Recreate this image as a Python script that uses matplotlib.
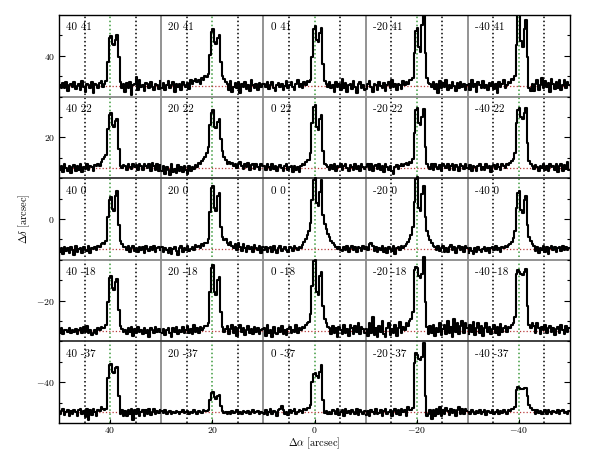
import numpy as np
import matplotlib
matplotlib.use("Agg")
import matplotlib.pyplot as plt

plt.rcParams.update({
    "font.family": "serif",
    "font.serif": ["cmr10", "DejaVu Serif"],
    "mathtext.fontset": "cm",
    "axes.formatter.use_mathtext": True,
    "axes.unicode_minus": True,
})

# ---- data -------------------------------------------------------------
ra_offsets = [40, 20, 0, -20, -40]          # panel labels (columns)
dec_offsets = [41, 22, 0, -18, -37]         # panel labels (rows)
x_ticks = [40, 20, 0, -20, -40]
y_ticks = [40, 20, 0, -20, -40]

# spectra (intensity in tenths of a plot unit above baseline), one per panel
s40_41 = [3,-6,8,-5,9,-12,2,6,-3,10,-8,0,5,-9,12,-2,-14,6,3,-5,9,-18,5,2,-6,8,12,-3,
          6,12,60,118,123,102,100,112,125,70,10,-6,4,
          -15,8,-5,10,-22,3,6,22,-9,14,-3,2,-12,8,5,-6,9,-2,-10,6,3,-8,12]
s20_41 = [-5,8,-10,3,12,-6,2,9,-14,5,-2,6,-9,10,3,-3,8,-8,14,5,12,18,9,15,6,20,14,25,
          22,30,75,132,139,108,104,118,126,60,25,18,10,
          6,-9,12,-14,-3,8,-6,10,-16,5,-2,9,-8,3,-12,14,2,-5,6,-9,8,-3,5]
s0_41 = [6,-3,9,-8,2,10,-5,-12,3,8,-2,5,-9,1,12,-6,3,9,-3,-10,5,14,-2,6,-5,9,3,12,
         10,15,70,140,148,112,108,130,143,55,12,5,-3,
         9,-6,3,-14,10,-2,5,-9,18,-5,8,-15,2,6,-8,12,-3,-18,5,9,-6,2,-10]
sm20_41 = [-8,5,12,-3,-14,6,2,-9,10,1,-5,8,-12,3,9,-6,14,-2,5,-10,6,3,-8,12,2,9,5,15,
           14,20,80,135,141,95,84,150,185,80,20,8,4,
           -3,10,-8,5,-18,12,-5,8,-2,14,-9,3,-6,9,1,-12,8,-5,10,-3,6,-9,3]
sm40_41 = [5,-9,14,-3,6,-15,9,2,-6,12,-5,3,-10,8,1,10,-8,5,-18,9,-2,6,14,-5,3,10,8,18,
           15,25,100,175,185,110,96,140,161,70,-5,-12,6,
           -12,6,15,-9,3,20,-6,12,-3,8,-14,18,5,-8,10,-5,15,-10,3,14,-6,9,2]

s40_22 = [-6,3,-12,8,-2,-9,5,-14,1,6,-8,3,-5,9,-10,2,-3,8,-6,5,1,-9,6,3,10,5,14,20,
          25,30,95,130,135,105,100,115,120,45,5,-2,6,
          5,-5,8,2,-3,9,1,6,-5,10,3,-6,8,5,-2,9,-8,12,3,-5,10,-9,6]
s20_22 = [-9,5,-15,2,-6,-18,8,-12,-3,-14,6,-8,1,-10,5,-5,-16,3,-9,2,-3,6,1,12,9,15,20,25,
          35,50,105,135,141,100,96,112,120,70,40,25,18,
          10,14,8,12,3,10,-2,8,14,5,-3,9,2,12,-5,6,10,-3,8,2,-6,9,5]
s0_22 = [3,-5,8,1,-6,9,-3,5,-8,2,6,-2,-9,3,8,-5,1,5,-10,3,-6,2,-12,5,9,6,14,18,
         18,35,110,148,153,100,92,120,129,40,10,6,2,
         -5,6,-3,9,-8,5,1,8,-6,3,10,-2,-9,6,2,-5,8,-3,5,-8,9,1,-3]
sm20_22 = [2,8,-5,10,-9,3,6,-3,9,-6,5,-12,8,1,-5,3,-8,-15,2,6,-3,5,9,3,8,12,6,14,
           12,20,85,140,145,110,104,125,143,50,8,2,-4,
           8,-5,9,2,-3,6,-8,10,5,-2,8,-6,3,9,-5,6,2,-9,8,3,-3,10,-2]
sm40_22 = [-3,6,-8,5,1,-9,3,8,-5,2,-6,9,-2,5,-10,3,6,-3,8,2,-5,9,3,-2,10,6,12,16,
           20,35,110,140,145,125,120,135,145,60,15,8,3,
           -3,6,2,-8,5,-2,9,-6,3,-9,8,1,5,-5,10,-12,3,8,-9,6,-3,14,-6]

s40_0 = [-8,3,-12,6,-5,2,-9,5,-3,-14,8,-6,1,3,-10,6,-2,-5,8,-9,3,1,6,-3,9,5,12,14,
         12,20,80,120,127,98,93,130,142,60,20,12,6,
         5,-3,8,-6,3,9,-5,2,-8,6,-2,5,-9,8,1,-5,6,-3,9,-6,2,5,-2]
s20_0 = [5,-6,2,-3,-9,3,-12,1,6,-5,-15,3,8,-8,2,-3,9,-5,1,6,-2,10,5,8,3,12,9,16,
         15,25,90,150,154,100,93,130,138,55,30,22,25,
         15,10,18,8,4,12,-3,16,6,-5,12,3,-8,9,1,5,-6,10,2,-3,8,-9,5]
s0_0 = [-3,6,-8,2,5,-6,9,-2,-9,3,8,-5,1,6,-3,-8,5,2,-5,9,3,-2,6,4,10,18,25,35,
        45,65,120,170,175,112,105,140,170,85,62,50,38,
        30,20,14,10,5,1,5,-3,-5,6,-2,8,-6,3,9,-3,5,-8,6,2,-5,8,1]
sm20_0 = [5,-3,12,16,9,-5,6,-8,3,-2,8,-6,2,-9,5,1,-5,8,-12,3,6,-3,9,3,8,12,18,25,
          35,55,115,172,177,100,93,135,154,80,45,32,22,
          15,8,5,-3,8,-5,3,9,-6,2,-8,5,10,-3,6,-9,3,8,-2,5,-6,9,2]
sm40_0 = [-9,3,-5,-12,2,-6,5,-3,-8,1,6,-5,3,-9,2,5,-3,8,-2,3,-6,5,2,9,5,10,12,18,
          28,45,100,138,142,95,89,120,130,60,30,20,12,
          8,-5,6,-9,3,-2,8,-6,5,-12,3,9,-3,6,-8,2,5,-5,8,-3,6,-2,3]

s40_m18 = [-5,6,-9,3,1,-3,8,-6,2,-2,5,-8,3,6,-5,9,-3,12,-6,2,-10,-5,3,-8,6,2,9,8,
           8,15,70,130,135,104,100,120,127,50,12,4,-3,
           3,-8,6,-3,9,-12,5,-6,10,-2,3,-9,8,-5,2,-14,6,3,-6,9,-3,5,-2]
s20_m18 = [-6,5,-10,3,8,-5,-14,6,-2,9,-8,3,-3,10,-6,2,12,-5,5,-9,14,-3,8,-6,10,3,6,12,
           12,20,95,155,161,95,88,125,133,45,10,-4,5,
           12,-9,5,14,-5,9,-12,6,15,-3,8,-10,3,12,-6,5,-8,10,-3,6,-9,3,5]
s0_m18 = [8,-12,15,-6,3,-15,9,-5,-9,6,-3,12,-8,2,-10,5,9,-6,3,-2,14,-5,6,3,10,8,14,18,
          22,40,110,170,174,95,88,135,145,60,30,18,10,
          6,-9,12,-5,8,-15,10,3,-8,14,-6,5,-12,15,6,-9,12,-3,18,-8,10,5,-6]
sm20_m18 = [5,-12,20,-6,35,-10,8,-15,12,-4,25,-8,-14,6,18,-10,4,-6,15,-12,8,22,-5,10,3,18,12,25,
            30,45,150,157,155,135,129,140,182,70,10,-8,12,
            -5,15,-12,8,-3,20,-10,5,14,-8,25,-6,10,-15,30,-4,18,-9,12,25,-6,20,8]
sm40_m18 = [-8,15,-4,22,-10,6,18,-6,12,-12,8,20,-3,10,-8,4,14,-5,9,-10,16,-2,6,12,-4,10,8,15,
            20,35,140,149,145,140,137,143,151,60,15,8,20,
            12,-5,18,6,-8,10,2,15,-6,8,12,-4,6,-10,4,9,-6,14,2,-8,12,-3,6]

s40_m37 = [-5,3,8,-6,2,5,-9,3,-3,6,1,-8,5,9,-5,3,-12,8,-18,5,-6,9,2,-9,6,3,12,8,
           6,8,85,115,118,100,96,108,112,40,-4,6,-8,
           3,-9,6,-5,9,-18,5,-3,8,-8,2,6,-10,5,-3,9,-6,2,8,-5,3,-2,6]
s20_m37 = [3,-2,5,-3,1,3,-5,2,-2,3,1,-3,2,5,-2,1,3,-3,2,-2,5,1,-3,3,2,-2,5,3,
           4,6,30,48,51,38,34,40,43,15,3,-1,2,
           -5,2,-3,3,-2,1,5,-3,2,-5,3,1,-2,3,-3,2,5,-2,1,3,-3,2,-2]
s0_m37 = [-3,5,-6,2,8,-5,3,1,-8,5,9,16,6,-3,2,-6,5,-2,3,8,-5,1,6,3,-2,9,5,10,
          10,18,75,93,96,88,84,100,116,30,-2,3,-4,
          2,-5,6,3,-3,8,-6,2,5,-8,9,-2,3,-5,6,1,-3,8,-6,5,2,-3,3]
sm20_m37 = [-6,3,-9,5,2,-3,8,-5,-2,6,-8,3,9,-5,1,5,-10,3,8,-3,6,-6,9,2,5,-8,12,6,
            6,10,120,145,140,132,129,135,170,40,-8,-4,5,
            -15,5,-8,9,-3,12,-9,6,-5,10,3,-6,8,-2,5,-9,6,12,-5,8,-3,9,3]
sm40_m37 = [2,-3,5,1,-5,3,-2,6,-3,2,5,-6,3,1,-2,5,-3,2,6,-5,3,-2,5,2,-3,6,3,8,
            8,12,55,63,60,58,57,60,61,40,18,10,6,
            5,-3,6,-2,3,-5,2,5,-3,6,1,-5,3,2,-2,5,-3,3,6,-2,2,-5,3]

spectra = [
    [s40_41, s20_41, s0_41, sm20_41, sm40_41],
    [s40_22, s20_22, s0_22, sm20_22, sm40_22],
    [s40_0, s20_0, s0_0, sm20_0, sm40_0],
    [s40_m18, s20_m18, s0_m18, sm20_m18, sm40_m18],
    [s40_m37, s20_m37, s0_m37, sm20_m37, sm40_m37],
]

# ---- layout -------------------------------------------------------------
panel_x = [40, 20, 0, -20, -40]
panel_y = [40, 20, 0, -20, -40]
half_w = 10.0
scale = 0.1
base_off = -7.4

fig = plt.figure(figsize=(6, 4.5), dpi=100)
ax = fig.add_axes([59 / 600, 27 / 450, 511 / 600, 408 / 450])
ax.set_xlim(50, -50)
ax.set_ylim(-50, 50)

green = "#3c9a3c"
red = "#b83a3a"
gray = "#8a8a8a"

for px in panel_x:
    ax.axvline(px, color=green, ls=":", lw=1.1, zorder=1)
    ax.axvline(px + 5, color="k", ls=":", lw=1.1, zorder=1)
    ax.axvline(px - 5, color="k", ls=":", lw=1.1, zorder=1)

for b in [30, 10, -10, -30]:
    ax.axvline(b, color=gray, lw=1.3, zorder=1.5)
for b, c in zip([30, 10, -10, -30], [gray, "#333333", gray, "#333333"]):
    ax.axhline(b, color=c, lw=1.3, zorder=1.5)

for py, dec, row in zip(panel_y, dec_offsets, spectra):
    base = py + base_off
    ax.axhline(base, color=red, ls=":", lw=0.9, zorder=2)
    for px, ra, spec in zip(panel_x, ra_offsets, row):
        n = len(spec)
        x = px + half_w - (np.arange(n) + 0.5) * (2 * half_w / n)
        y = base + np.asarray(spec, dtype=float) * scale
        ax.plot(x, y, drawstyle="steps-mid", color="k", lw=1.5, zorder=3)
        ax.text(px + 8.6, py + 6.9, f"{ra} {dec}", fontsize=8,
                ha="left", va="center", zorder=4)

ax.set_xticks(x_ticks)
ax.set_yticks(y_ticks)
ax.set_yticks(np.arange(-45, 50, 5), minor=True)
ax.tick_params(axis="y", which="major", direction="in", length=4.5, width=0.8,
               left=True, right=True, labelsize=7, pad=3)
ax.tick_params(axis="y", which="minor", direction="in", length=2.5, width=0.8,
               left=True, right=True)
ax.tick_params(axis="x", which="major", direction="in", length=3, width=0.8,
               labelsize=7, pad=1.5)
for s in ax.spines.values():
    s.set_linewidth(1.0)

ax.set_xlabel(r"$\Delta\alpha$ [arcsec]", fontsize=7.5, labelpad=0.5)
ax.set_ylabel(r"$\Delta\delta$ [arcsec]", fontsize=7.5, labelpad=3)

fig.savefig("out.png", dpi=100)
